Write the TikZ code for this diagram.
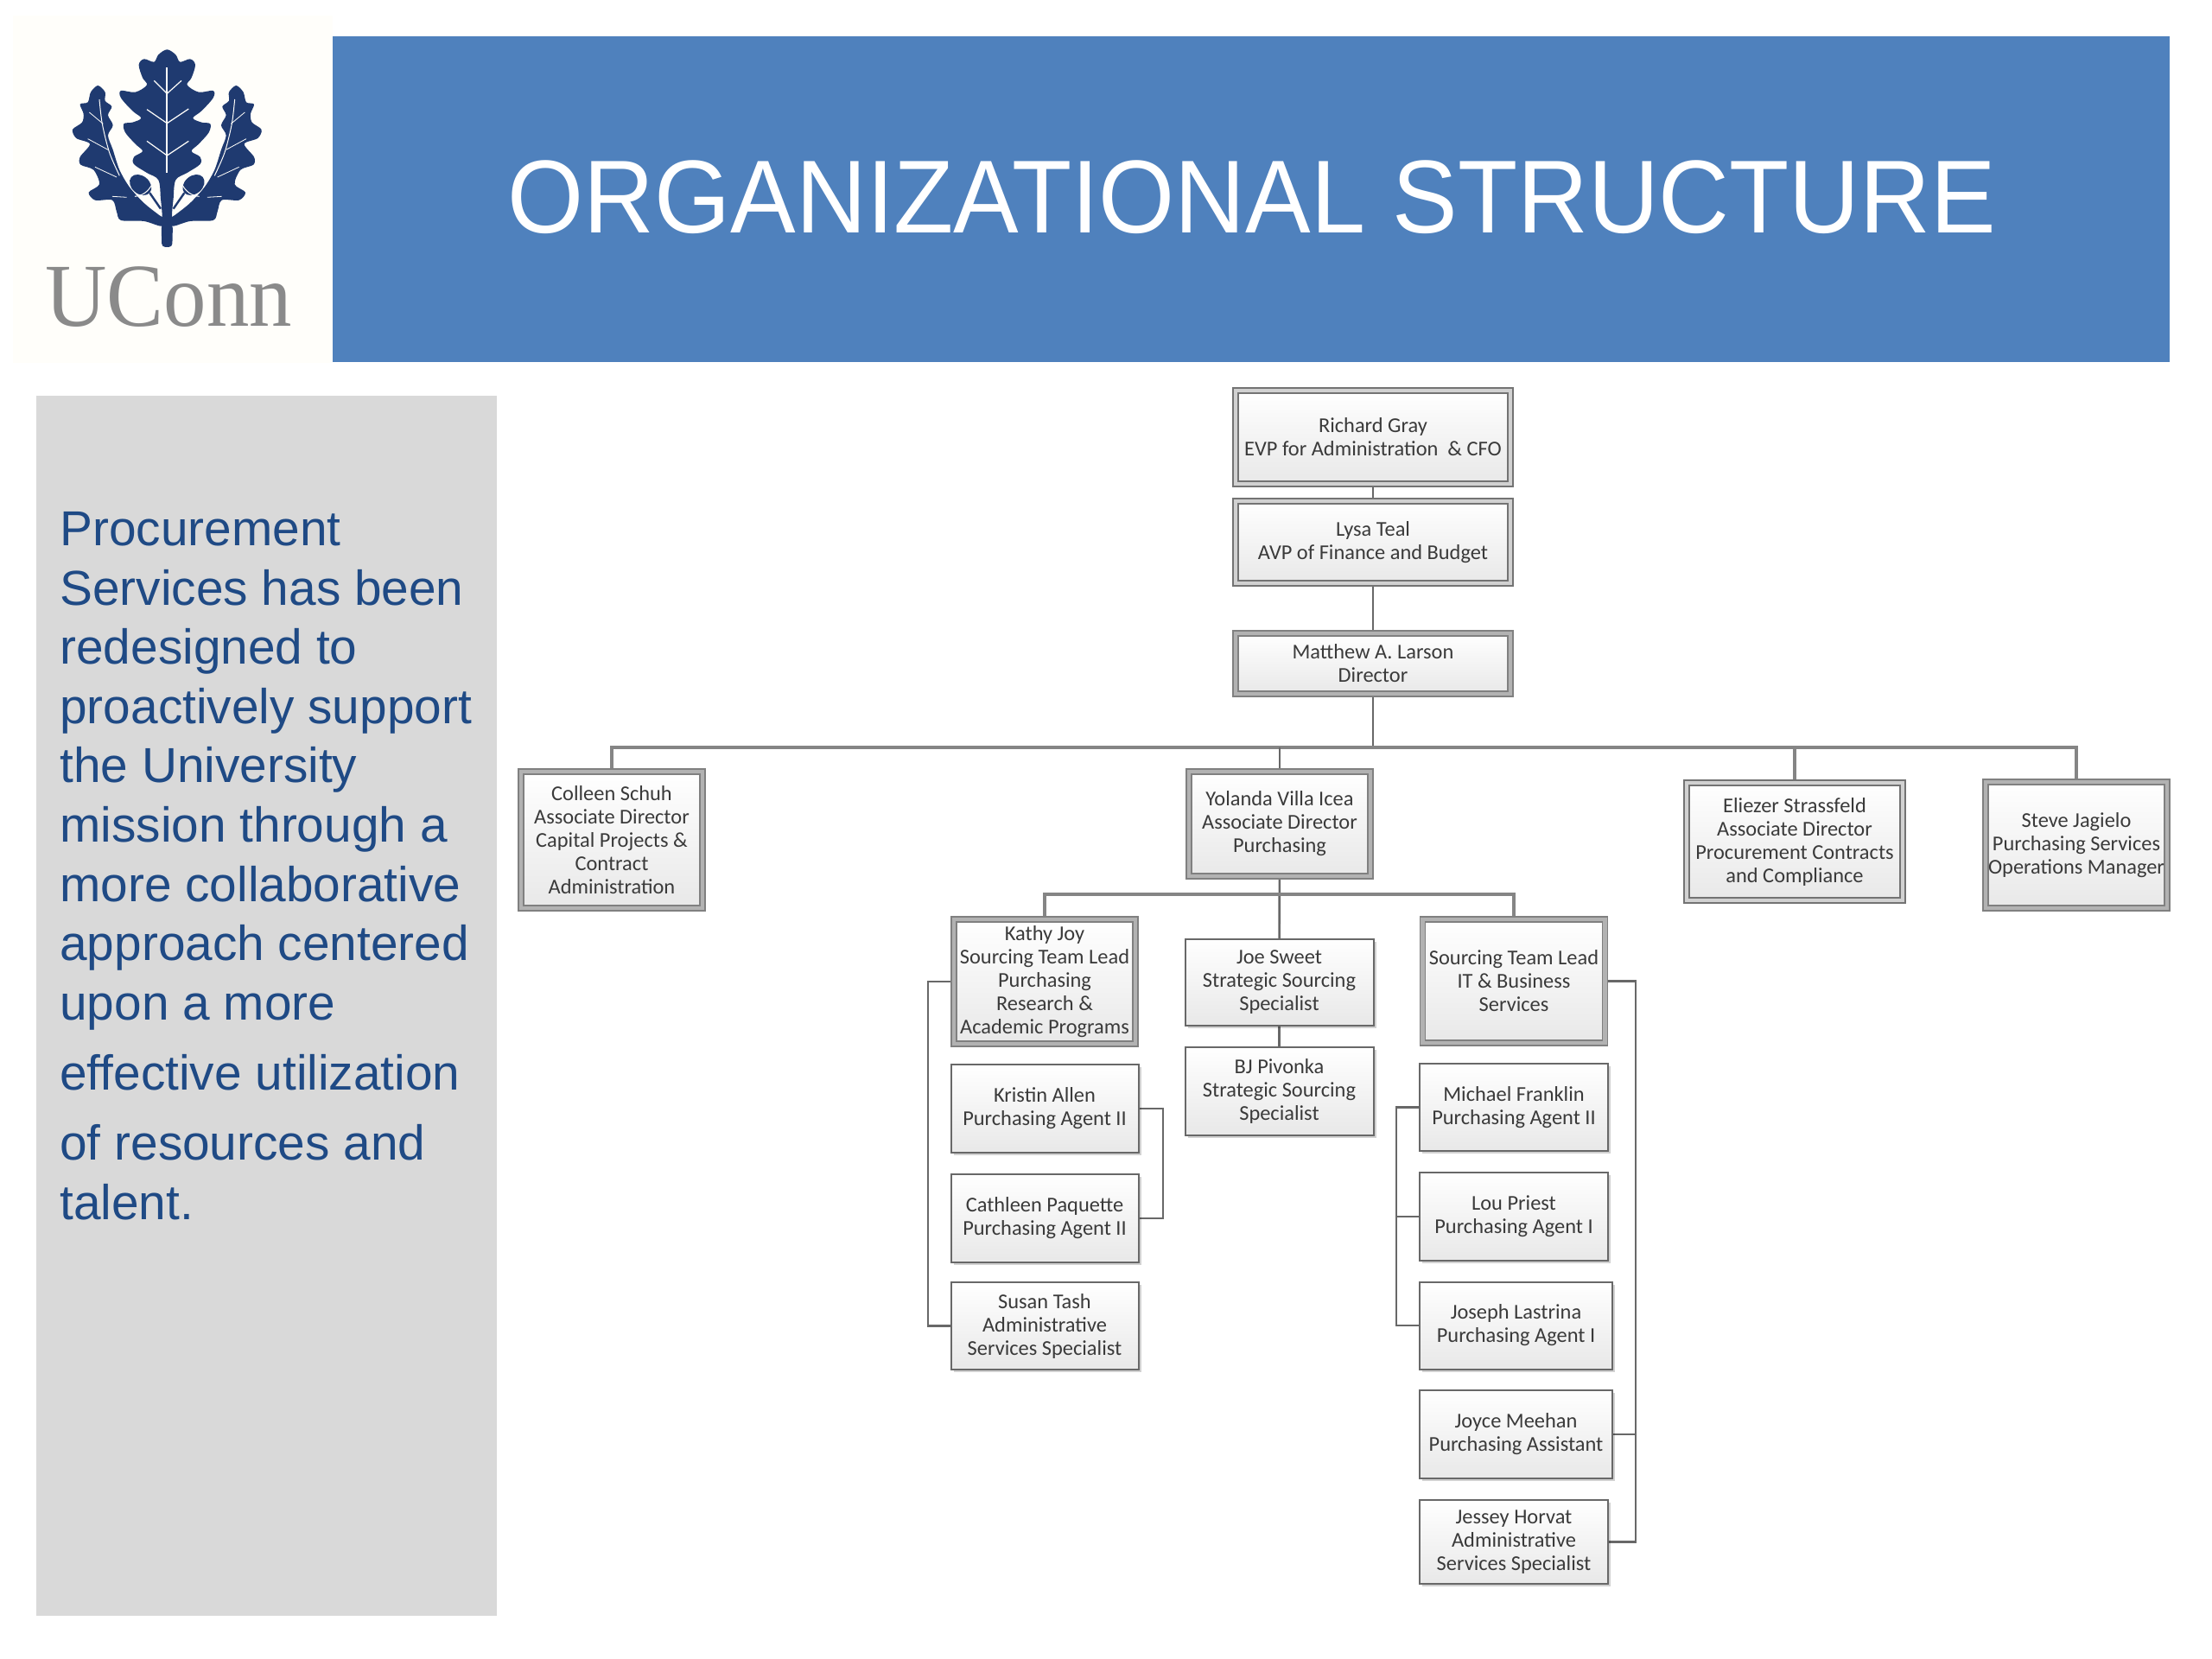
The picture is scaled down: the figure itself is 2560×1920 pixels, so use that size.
\documentclass[tikz,border=0pt]{standalone}
\usepackage{graphicx}
\usepackage{fontspec}
\setmainfont{Carlito}
\newfontfamily\headfont{Liberation Sans}
\newfontfamily\ucfont{Liberation Serif}
\usetikzlibrary{shadows,backgrounds}
\definecolor{uconnblue}{HTML}{4F81BD}
\definecolor{panelgray}{HTML}{D9D9D9}
\definecolor{paneltext}{HTML}{1F4A85}
\definecolor{logonavy}{HTML}{1F3A70}
\definecolor{logocream}{HTML}{FFFEFA}
\definecolor{logogray}{HTML}{8A8A8A}
\definecolor{linegray}{HTML}{686868}
\definecolor{boxtext}{HTML}{3A3A3A}
\tikzset{
  box/.style 2 args={minimum width=#1*0.5pt, minimum height=#2*0.5pt},
  person/.style={rectangle, draw=linegray, line width=1pt, top color=white, bottom color=black!9,
    text=boxtext, align=center, inner sep=0pt, outer sep=0pt,
    font=\fontsize{12.2}{13.5}\selectfont,
    drop shadow={shadow xshift=1.5pt, shadow yshift=-1.5pt, fill=black, opacity=.18}},
  lead/.style={person, draw=black!55, double=black!18, double distance=2.4pt, line width=0.6pt},
  leadstrong/.style={person, draw=black!50, double=black!30, double distance=2.4pt, line width=0.6pt},
  conn/.style={draw=linegray, line width=1.3pt},
  busline/.style={draw=black!48, line width=1.6pt},
}
\begin{document}
\begin{tikzpicture}[x=0.5pt,y=-0.5pt]
\useasboundingbox (0,0) rectangle (2560,1920);
% header
\fill[logocream] (15,18) rectangle (385,420);
\fill[uconnblue] (385,42) rectangle (2511,419);
\node (title) [anchor=base, text=white, inner sep=0pt, font=\headfont\fontsize{60}{60}\selectfont] at (1449,270) {\scalebox{.944}[1]{ORGANIZATIONAL STRUCTURE}};
% logo
\begin{scope}[x=0.5pt/3,y=-0.5pt/3]
\begin{scope}[shift={(580,0)}]
  \fill[logonavy] plot[smooth cycle, tension=0.55] coordinates {
    (0,172)(30,190)(45,215)(80,205)(98,225)(85,270)(70,295)(110,320)(160,315)(160,340)(120,385)(90,410)(120,425)(150,430)(145,460)(110,500)(85,525)(115,545)(115,570)(70,600)(30,625)(22,690)(17,745)(17,790)
    (-17,790)(-17,745)(-22,690)(-30,625)(-70,600)(-115,570)(-115,545)(-85,525)(-110,500)(-145,460)(-150,430)(-120,425)(-90,410)(-120,385)(-160,340)(-160,315)(-110,320)(-70,295)(-85,270)(-98,225)(-80,205)(-45,215)(-30,190)};
  \fill[logonavy, rounded corners=6pt/3] (-20,780) -- (-18,858) -- (18,858) -- (20,780) -- cycle;
  \draw[logocream, line width=0.9pt] (0,235) -- (0,600);
  \draw[logocream, line width=0.6pt] (-45,280) -- (0,325) -- (50,280);
  \draw[logocream, line width=0.6pt] (-70,380) -- (0,428) -- (75,378);
  \draw[logocream, line width=0.6pt] (-70,490) -- (0,540) -- (75,490);
\end{scope}
\foreach \s in {1,-1}{
\begin{scope}[shift={(580,0)}, xscale=\s]
  \fill[logonavy] plot[smooth cycle, tension=0.5] coordinates {
    (-240,297)(-265,320)(-275,355)(-302,362)(-290,395)(-295,425)(-328,450)(-315,480)(-268,500)(-302,545)(-300,572)(-255,590)(-235,640)(-272,668)(-250,695)(-190,695)(-175,735)(-160,765)(-80,768)(-20,785)(-10,760)(-30,745)(-80,705)(-130,650)(-165,590)(-188,520)(-205,470)(-188,435)(-205,400)(-192,370)(-215,350)(-215,320)};
  \draw[logocream, line width=0.5pt] plot[smooth] coordinates {(-235,345)(-225,430)(-200,530)(-165,610)};
  \draw[logocream, line width=0.4pt] (-270,390) -- (-222,430);
  \draw[logocream, line width=0.4pt] (-275,482) -- (-205,520);
  \draw[logocream, line width=0.4pt] (-250,580) -- (-175,615);
  \draw[logocream, line width=0.4pt] (-190,682) -- (-140,685);
  \fill[logonavy, rotate around={-40:(-92,642)}] (-92,642) ellipse (42 and 31);
  \draw[logonavy, line width=1.2pt] (-60,670) -- (-22,725);
  \draw[logocream, line width=0.5pt] (-112,682) .. controls (-85,680) and (-65,665) .. (-52,640);
\end{scope}}
\end{scope}
\node (uconn) [anchor=base west, text=logogray, inner sep=0pt, font=\ucfont\fontsize{52}{52}\selectfont] at (52,378) {\scalebox{.95}[1]{UConn}};
% left panel
\fill[panelgray] (42,458) rectangle (575,1870);
\node (paneltxt) [anchor=north west, text=paneltext, inner sep=0pt, align=left, font=\headfont\fontsize{28.4}{34.3}\selectfont] at (69,592) {Procurement\\Services has been\\redesigned to\\proactively support\\the University\\mission through a\\more collaborative\\approach centered\\upon a more\\[6.5pt]effective utilization\\[6.2pt]of resources and\\talent.};
% org boxes
\node (richard) [lead, box={318}{108}] at (1589,506) {Richard Gray\\EVP for Administration\ \ \& CFO};
\node (lysa) [lead, box={318}{95}] at (1589,627.5) {Lysa Teal\\AVP of Finance and Budget};
\node (matthew) [leadstrong, box={318}{70}] at (1589,768) {Matthew A. Larson\\Director};
\node (colleen) [leadstrong, box={210}{158}] at (708,972) {Colleen Schuh\\Associate Director\\Capital Projects \&\\Contract\\Administration};
\node (yolanda) [leadstrong, box={210}{121}] at (1481,953.5) {Yolanda Villa Icea\\Associate Director\\Purchasing};
\node (eliezer) [lead, box={250}{136}] at (2077,974) {Eliezer Strassfeld\\Associate Director\\Procurement Contracts\\and Compliance};
\node (steve) [leadstrong, box={210}{146}] at (2403,978) {Steve Jagielo\\Purchasing Services\\Operations Manager};
\node (kathy) [leadstrong, box={210}{144}] at (1209,1136) {Kathy Joy\\Sourcing Team Lead\\Purchasing\\Research \&\\Academic Programs};
\node (joe) [person, box={218}{100}] at (1480.5,1136.5) {Joe Sweet\\Strategic Sourcing\\Specialist};
\node (bj) [person, box={218}{102}] at (1480.5,1262.5) {BJ Pivonka\\Strategic Sourcing\\Specialist};
\node (kristin) [person, box={217}{102}] at (1209,1283) {Kristin Allen\\Purchasing Agent II};
\node (cathleen) [person, box={217}{102}] at (1209,1410) {Cathleen Paquette\\Purchasing Agent II};
\node (susan) [person, box={217}{101}] at (1209,1534.5) {Susan Tash\\Administrative\\Services Specialist};
\node (sourcing) [leadstrong, box={211}{143}] at (1752,1135.5) {Sourcing Team Lead\\IT \& Business\\Services};
\node (michael) [person, box={218}{101}] at (1752,1281.5) {Michael Franklin\\Purchasing Agent II};
\node (lou) [person, box={218}{102}] at (1752,1408) {Lou Priest\\Purchasing Agent I};
\node (joseph) [person, box={223}{101}] at (1754.5,1534) {Joseph Lastrina\\Purchasing Agent I};
\node (joyce) [person, box={223}{102}] at (1754.5,1660) {Joyce Meehan\\Purchasing Assistant};
\node (jessey) [person, box={218}{97}] at (1752,1784.5) {Jessey Horvat\\Administrative\\Services Specialist};
% junctions
\coordinate (busm) at (1589,865);
\coordinate (busy) at (1481,1035);
\coordinate (brk) at (1074,1136);
\coordinate (brm) at (1346,1283);
\coordinate (brs) at (1616,1281.5);
\coordinate (brj) at (1893,1135.5);
\begin{scope}[on background layer]
  \draw[conn] (richard) -- (lysa);
  \draw[conn] (lysa) -- (matthew);
  \draw[conn] (matthew) -- (busm);
  \draw[busline] (colleen.north) |- (busm);
  \draw[conn] (yolanda.north) -- (yolanda.north |- busm);
  \draw[busline] (busm) -| (eliezer.north);
  \draw[busline] (busm) -| (steve.north);
  \draw[conn] (yolanda) -- (joe);
  \draw[conn] (joe) -- (bj);
  \draw[busline] (kathy.north) |- (busy);
  \draw[busline] (busy) -| (sourcing.north);
  \draw[conn] (kathy.west) -- (brk) |- (susan.west);
  \draw[conn] (kristin.east) -- (brm) |- (cathleen.east);
  \draw[conn] (michael.west) -- (brs) |- (joseph.west);
  \draw[conn] (lou.west) -- (lou.west -| brs);
  \draw[conn] (sourcing.east) -- (brj) |- (jessey.east);
  \draw[conn] (joyce.east) -- (joyce.east -| brj);
\end{scope}
\end{tikzpicture}
\end{document}
